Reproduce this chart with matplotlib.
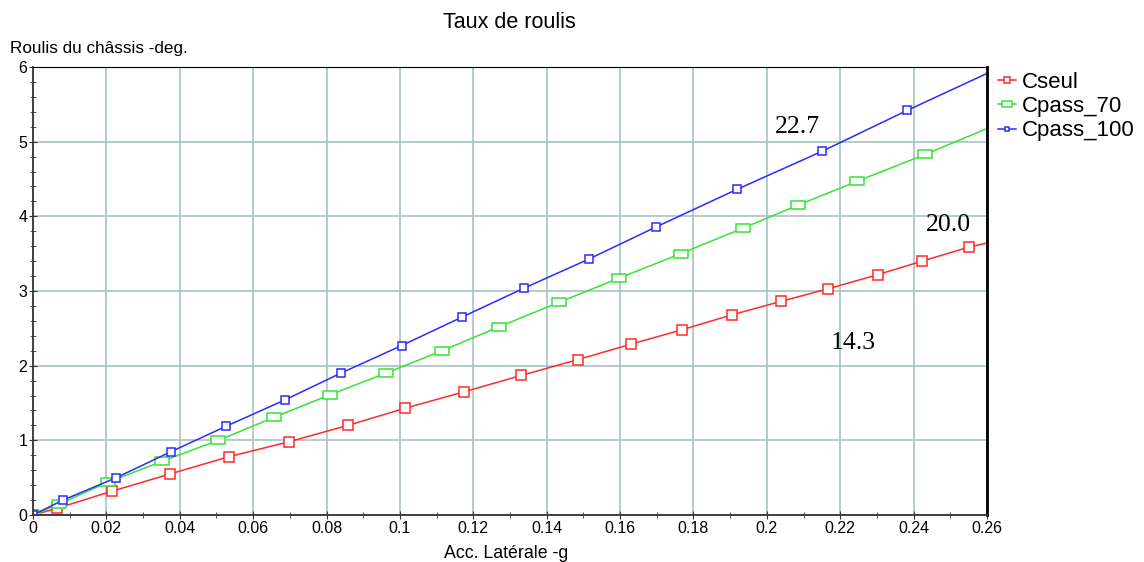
import numpy as np
import matplotlib
matplotlib.use("Agg")
import matplotlib.pyplot as plt
from matplotlib.ticker import MultipleLocator
from matplotlib.path import Path

plt.rcParams['font.family'] = ['Liberation Sans', 'DejaVu Sans']

# data
x_cseul = [0, 0.0066, 0.0216, 0.0374, 0.0533, 0.0697, 0.0858, 0.1014, 0.1175, 0.1331, 0.1484,
           0.1631, 0.1768, 0.1904, 0.2038, 0.2167, 0.2303, 0.2423, 0.2552, 0.2607]
y_cseul = [0, 0.09, 0.32, 0.55, 0.78, 0.98, 1.20, 1.43, 1.65, 1.87, 2.08,
           2.29, 2.48, 2.68, 2.86, 3.03, 3.22, 3.40, 3.59, 3.65]

x_c70 = [0, 0.0072, 0.0205, 0.0352, 0.0505, 0.0658, 0.0809, 0.0962, 0.1115, 0.1270, 0.1434,
         0.1596, 0.1765, 0.1934, 0.2085, 0.2246, 0.2432, 0.2607]
y_c70 = [0, 0.15, 0.44, 0.72, 1.00, 1.31, 1.61, 1.90, 2.20, 2.52, 2.85,
         3.17, 3.50, 3.84, 4.15, 4.47, 4.83, 5.19]

x_c100 = [0, 0.0082, 0.0227, 0.0377, 0.0527, 0.0686, 0.0839, 0.1005, 0.1169, 0.1339, 0.1516,
          0.1699, 0.1918, 0.2150, 0.2383, 0.2607]
y_c100 = [0, 0.20, 0.50, 0.85, 1.19, 1.54, 1.90, 2.27, 2.65, 3.04, 3.43,
          3.86, 4.36, 4.87, 5.42, 5.93]

labels = ['Cseul', 'Cpass_70', 'Cpass_100']
notes = ['22.7', '20.0', '14.3']
note_pos = [(0.2022, 5.11), (0.2432, 3.80), (0.2175, 2.22)]
xtick_labels = ['0', '0.02', '0.04', '0.06', '0.08', '0.1', '0.12', '0.14', '0.16',
                '0.18', '0.2', '0.22', '0.24', '0.26']

fig = plt.figure(figsize=(11.44, 5.62), dpi=100)
ax = fig.add_axes([0.0288, 0.0836, 0.8340, 0.7972])

# green markers are flat rectangles
rect = Path([(-1, -0.6), (1, -0.6), (1, 0.6), (-1, 0.6), (-1, -0.6)],
            [Path.MOVETO, Path.LINETO, Path.LINETO, Path.LINETO, Path.CLOSEPOLY])

# last point of each series has no marker (line ends at the frame)
ax.plot(x_cseul, y_cseul, color='#ff2a2a', lw=1.1, marker='s', ms=7, mfc='white',
        mec='#ff2a2a', mew=1.1, markevery=list(range(len(x_cseul) - 1)), label=labels[0])
ax.plot(x_c70, y_c70, color='#33e633', lw=1.1, marker=rect, ms=10, mfc='white',
        mec='#33e633', mew=1.1, markevery=list(range(len(x_c70) - 1)), label=labels[1])
ax.plot(x_c100, y_c100, color='#2a2aff', lw=1.1, marker='s', ms=5.5, mfc='white',
        mec='#2a2aff', mew=1.1, markevery=list(range(len(x_c100) - 1)), label=labels[2])

for t, (tx, ty) in zip(notes, note_pos):
    ax.text(tx, ty, t, family='Liberation Serif', fontsize=18.5, ha='left', va='baseline')

ax.set_xlim(0, 0.26)
ax.set_ylim(0, 6)
ax.set_xticks(np.arange(0, 0.261, 0.02))
ax.set_xticklabels(xtick_labels)
ax.xaxis.set_minor_locator(MultipleLocator(0.01))
ax.yaxis.set_major_locator(MultipleLocator(1))
ax.yaxis.set_minor_locator(MultipleLocator(0.2))
ax.grid(True, which='major', color='#a9c2c2', lw=1.2)
ax.set_axisbelow(True)
ax.tick_params(which='both', direction='inout', colors='#333333', labelcolor='black',
               labelsize=11.5)
ax.tick_params(which='major', length=6)
ax.tick_params(which='minor', length=4)
ax.tick_params(axis='x', pad=1)
ax.tick_params(axis='y', pad=1)
for s in ['left', 'bottom']:
    ax.spines[s].set_color('#333333')
    ax.spines[s].set_linewidth(1.3)
ax.spines['top'].set_color('black')
ax.spines['right'].set_color('black')
ax.spines['right'].set_linewidth(2)

fig.text(0.445, 0.950, 'Taux de roulis', ha='center', va='baseline', fontsize=15.5)
fig.text(0.009, 0.906, 'Roulis du châssis -deg.', ha='left', va='baseline', fontsize=12.3)
fig.text(0.442, 0.0075, 'Acc. Latérale -g', ha='center', va='baseline', fontsize=12.8)

leg = ax.legend(loc='upper left', bbox_to_anchor=(0.863, 0.892), bbox_transform=fig.transFigure,
                frameon=False, fontsize=16, handlelength=0.8, handletextpad=0.25,
                labelspacing=0.15, borderpad=0, markerscale=0.65)

fig.savefig('out.png', dpi=100)
